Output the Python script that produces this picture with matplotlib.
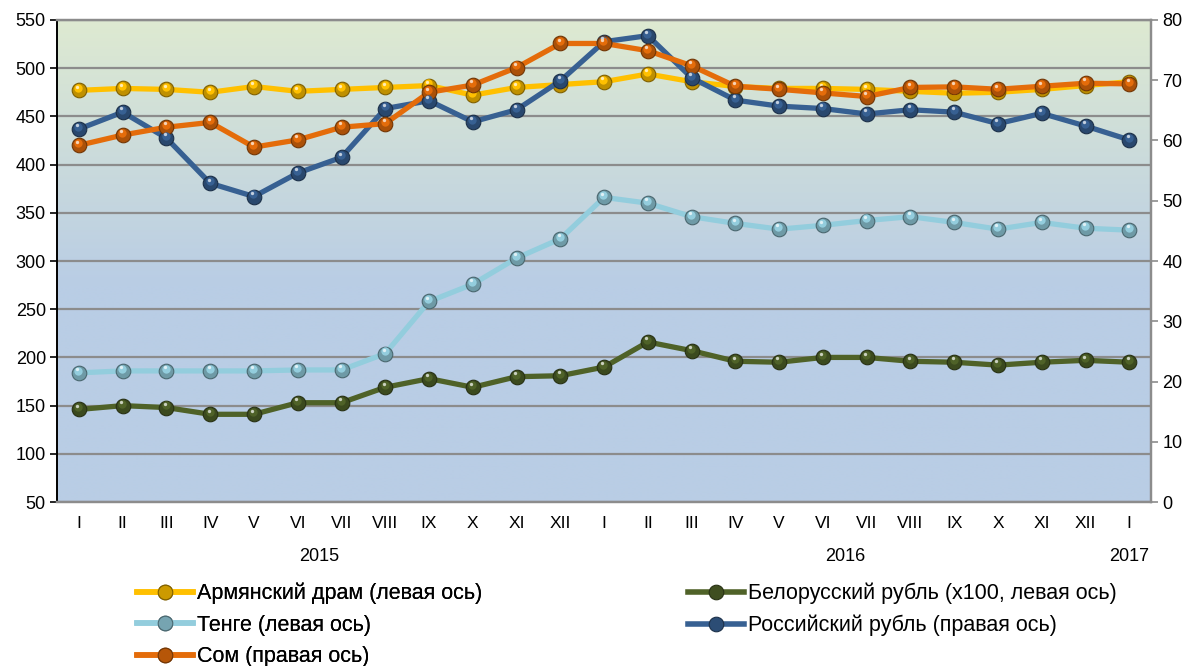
import numpy as np
import matplotlib
matplotlib.use("Agg")
import matplotlib.pyplot as plt
import matplotlib.transforms as mtransforms
from matplotlib.lines import Line2D
from matplotlib.colors import to_rgb

plt.rcParams['font.family'] = ['Liberation Sans', 'DejaVu Sans']

months = ['I', 'II', 'III', 'IV', 'V', 'VI', 'VII', 'VIII', 'IX', 'X', 'XI', 'XII',
          'I', 'II', 'III', 'IV', 'V', 'VI', 'VII', 'VIII', 'IX', 'X', 'XI', 'XII', 'I']
years = ['2015', '2016', '2017']

# left axis
amd = [477, 479, 478, 475, 481, 476, 478, 480, 482, 472, 480, 483,
       486, 494, 486, 481, 479, 479, 478, 476, 474, 475, 478, 482, 486]
byr = [146, 150, 148, 141, 141, 153, 153, 169, 178, 169, 180, 181,
       190, 216, 207, 196, 195, 200, 200, 196, 195, 192, 195, 197, 195]
kzt = [184, 186, 186, 186, 186, 187, 187, 204, 258, 276, 303, 323,
       366, 360, 346, 339, 333, 337, 342, 346, 340, 333, 340, 334, 332]
# right axis
rub = [61.9, 64.7, 60.4, 52.9, 50.7, 54.6, 57.2, 65.3, 66.6, 63.1, 65.1, 69.9,
       76.4, 77.4, 70.4, 66.7, 65.7, 65.3, 64.4, 65.1, 64.7, 62.8, 64.5, 62.4, 60.1]
kgs = [59.2, 60.9, 62.2, 63.0, 58.9, 60.1, 62.2, 62.8, 68.0, 69.2, 72.1, 76.1,
       76.1, 74.9, 72.4, 69.0, 68.5, 67.9, 67.3, 68.8, 68.9, 68.5, 69.0, 69.5, 69.4]

labels = ['Армянский драм (левая ось)', 'Белорусский рубль (х100, левая ось)',
          'Тенге (левая ось)', 'Российский рубль (правая ось)', 'Сом (правая ось)']
colors = ['#FFC000', '#4F6228', '#93CDDD', '#376092', '#E46C0A']

x = np.arange(len(months))

fig = plt.figure(figsize=(11.88, 6.66), dpi=100)
ax = fig.add_axes([0.048, 0.2462, 0.921, 0.7238])
ax2 = ax.twinx()

# background gradient
top = np.array(to_rgb('#DEEAD1'))
bot = np.array(to_rgb('#B9CDE5'))
t = np.linspace(0, 1, 256)
mix = np.clip((t - 0.45) / 0.55, 0, 1)
grad = (bot[None, :] * (1 - mix[:, None]) + top[None, :] * mix[:, None])
grad = np.repeat(grad[:, None, :], 2, axis=1)
ax.imshow(grad, extent=[0, 1, 0, 1], transform=ax.transAxes, origin='lower',
          aspect='auto', zorder=0, interpolation='bilinear')


def darker(c, f=0.55):
    r, g, b = to_rgb(c)
    return (r * f, g * f, b * f)


def lighter(c, f=0.6):
    r, g, b = to_rgb(c)
    return (r + (1 - r) * f, g + (1 - g) * f, b + (1 - b) * f)


def draw(axis, y, c):
    axis.plot(x, y, color=c, lw=3.8, solid_joinstyle='round', zorder=3)
    axis.plot(x, y, ls='none', marker='o', ms=10.5, mfc=darker(c, 0.75),
              mec=darker(c, 0.5), mew=0.8, zorder=4)
    off = mtransforms.offset_copy(axis.transData, fig=fig, x=-0.5, y=1.5, units='points')
    axis.plot(x, y, ls='none', marker='o', ms=6, mfc=c, mec='none',
              transform=off, zorder=5)
    off2 = mtransforms.offset_copy(axis.transData, fig=fig, x=-1.2, y=2.7, units='points')
    axis.plot(x, y, ls='none', marker='o', ms=2.4, mfc=lighter(c, 0.7), mec='none',
              transform=off2, zorder=6)


draw(ax, amd, colors[0])
draw(ax, byr, colors[1])
draw(ax, kzt, colors[2])
draw(ax2, rub, colors[3])
draw(ax2, kgs, colors[4])

ax.set_xlim(-0.5, len(months) - 0.5)
ax.set_ylim(50, 550)
ax.set_yticks(np.arange(50, 551, 50))
ax2.set_ylim(0, 80)
ax2.set_yticks(np.arange(0, 81, 10))

ax.yaxis.grid(True, color='#8C8C8C', lw=1.6)
ax.set_axisbelow(True)
for gl in ax.get_ygridlines():
    gl.set_zorder(1)

ax.set_xticks(x)
ax.set_xticklabels(months, fontsize=12.5)
ax.tick_params(axis='x', length=0, pad=10)
ax.tick_params(axis='y', labelsize=13, length=5, width=1.2, color='black', pad=3)
ax2.tick_params(axis='y', labelsize=13, length=5, width=1.2, color='#8C8C8C', pad=3)

for a in (ax, ax2):
    for s in a.spines.values():
        s.set_color('#8C8C8C')
        s.set_linewidth(1.6)
ax.spines['left'].set_color('black')
ax.spines['left'].set_linewidth(1.4)
ax2.spines['left'].set_visible(False)

# year labels
blend = mtransforms.blended_transform_factory(ax.transData, ax.transAxes)
ax.text(5.5, -0.114, years[0], transform=blend, ha='center', va='center', fontsize=13)
ax.text(17.5, -0.114, years[1], transform=blend, ha='center', va='center', fontsize=13)
ax.text(24, -0.114, years[2], transform=blend, ha='center', va='center', fontsize=13)


def handle(c):
    return Line2D([0], [0], color=c, lw=4, marker='o', ms=10.5,
                  mfc=darker(c, 0.8), mec=darker(c, 0.5), mew=0.8)


h = [handle(c) for c in colors]
leg_kw = dict(loc='upper left', frameon=False, fontsize=15.5, handlelength=2.6,
              handletextpad=0.2, labelspacing=0.49, borderaxespad=0, borderpad=0)
leg1 = fig.legend([h[0], h[2], h[4]], [labels[0], labels[2], labels[4]],
                  bbox_to_anchor=(0.1153, 0.125), **leg_kw)
leg2 = fig.legend([h[1], h[3]], [labels[1], labels[3]],
                  bbox_to_anchor=(0.579, 0.125), **leg_kw)
fig.add_artist(leg1)

fig.savefig('out.png', dpi=100)
